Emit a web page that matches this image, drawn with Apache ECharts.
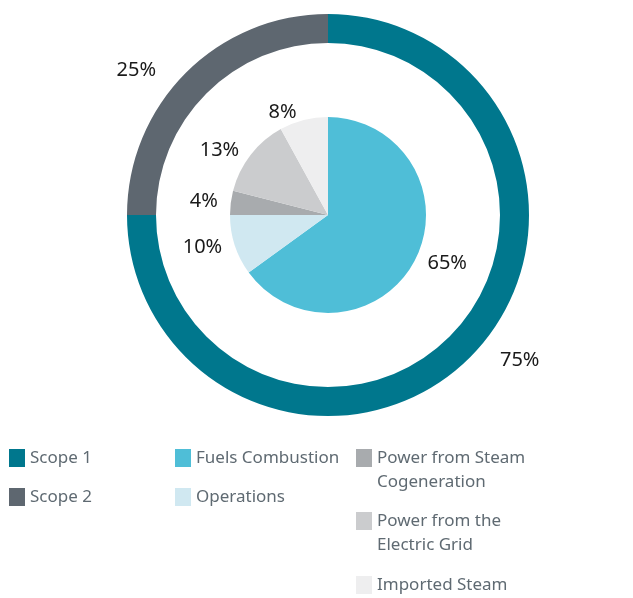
<!DOCTYPE html>
<html>
<head>
<meta charset="utf-8">
<script src="https://cdn.jsdelivr.net/npm/echarts@6/dist/echarts.min.js"></script>
<style>
  html, body { margin: 0; padding: 0; background: #fff; }
  #chart { width: 633px; height: 598px; }
</style>
</head>
<body>
<div id="chart"></div>
<script>
// 外环：排放范围
const scopeNames = ['Scope 1', 'Scope 2']
const scopeValues = [75, 25]
const scopeColors = ['#00778D', '#5E6770']
// 内饼：来源
const sourceNames = ['Fuels Combustion', 'Operations', 'Power from Steam Cogeneration', 'Power from the Electric Grid', 'Imported Steam']
const sourceValues = [65, 10, 4, 13, 8]
const sourceColors = ['#4FBED7', '#D0E8F1', '#A8ABAE', '#CBCCCE', '#EEEEEF']
// 图例中换行显示（前面空一行，让图标对齐第一行）
const legendLabels = {
  'Power from Steam Cogeneration': '\nPower from Steam\nCogeneration',
  'Power from the Electric Grid': '\nPower from the\nElectric Grid'
}

const center = [328, 215]
const font = 'Noto Sans'

const chart = echarts.init(document.getElementById('chart'))

const legendBase = {
  orient: 'vertical',
  icon: 'rect',
  padding: 0,
  itemWidth: 16,
  itemHeight: 18,
  itemGap: 15,
  selectedMode: false,
  formatter: name => legendLabels[name] || name,
  textStyle: {
    fontFamily: font,
    fontSize: 17,
    lineHeight: 24,
    color: '#5F6A72'
  }
}

const pctLabel = {
  position: 'outside',
  formatter: '{c}%',
  fontFamily: font,
  fontSize: 20,
  color: '#1A1A1A'
}

const option = {
  animation: false,
  legend: [
    Object.assign({}, legendBase, { left: 9, top: 446, data: scopeNames }),
    Object.assign({}, legendBase, { left: 175, top: 446, data: sourceNames.slice(0, 2) }),
    Object.assign({}, legendBase, { left: 356, top: 422, data: [sourceNames[2]] }),
    Object.assign({}, legendBase, { left: 356, top: 485, data: [sourceNames[3]] }),
    Object.assign({}, legendBase, { left: 356, top: 573, data: [sourceNames[4]] })
  ],
  series: [
    {
      name: 'Scope',
      type: 'pie',
      center: center,
      radius: [172, 201],
      startAngle: 90,
      silent: true,
      label: pctLabel,
      labelLine: { show: false, length: 4, length2: 22 },
      data: scopeNames.map((n, i) => ({ name: n, value: scopeValues[i], itemStyle: { color: scopeColors[i] } }))
    },
    {
      name: 'Source',
      type: 'pie',
      center: center,
      radius: [0, 98],
      startAngle: 90,
      silent: true,
      label: pctLabel,
      labelLine: { show: false, length: 8, length2: 0 },
      data: sourceNames.map((n, i) => ({ name: n, value: sourceValues[i], itemStyle: { color: sourceColors[i] } }))
    }
  ]
}

chart.setOption(option)
</script>
</body>
</html>
